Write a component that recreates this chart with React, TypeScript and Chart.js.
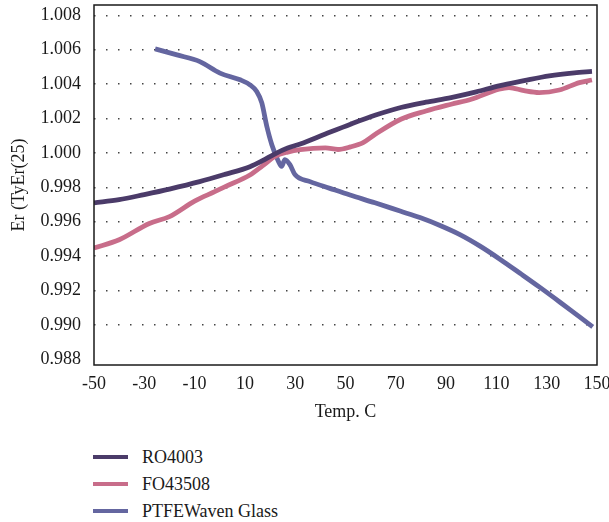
import React, { useEffect, useRef } from "react";
import { Chart, registerables } from "chart.js";

Chart.register(...registerables);

const FONT = '"Liberation Serif", "Times New Roman", serif';

const xTicks = [-50, -30, -10, 10, 30, 50, 70, 90, 110, 130, 150];
const yTicks = [0.988, 0.99, 0.992, 0.994, 0.996, 0.998, 1.0, 1.002, 1.004, 1.006, 1.008];

const seriesNames = ["RO4003", "FO43508", "PTFEWaven Glass"];
const seriesColors = ["#4b3b69", "#c86d8a", "#6466a0"];

const roTemps = [-50, -40, -30, -20, -8, 2, 12, 17, 22, 27, 32, 42, 52, 62, 72, 82, 92, 102, 111, 121, 131, 141, 148];
const roValues = [0.9971, 0.99728, 0.99758, 0.9979, 0.99833, 0.99875, 0.9992, 0.99955, 0.99995, 1.00028, 1.00052, 1.0011, 1.00167, 1.0022, 1.00264, 1.00295, 1.00322, 1.00355, 1.0039, 1.0042, 1.00448, 1.00466, 1.00474];

const foTemps = [-50, -40, -28, -20, -10, -2, 2, 12, 17, 22, 27, 32, 42, 47, 52, 57, 62, 72, 82, 92, 100, 111, 115, 121, 127, 135, 143, 148];
const foValues = [0.99447, 0.99495, 0.9959, 0.9963, 0.9972, 0.99775, 0.99803, 0.99872, 0.99925, 0.9998, 1.00005, 1.00019, 1.00029, 1.0002, 1.00035, 1.0006, 1.0011, 1.00196, 1.00244, 1.00283, 1.00312, 1.0037, 1.0038, 1.00362, 1.00351, 1.00366, 1.00409, 1.00424];

const ptTemps = [-25.7, -17, -7.9, 0.1, 8.1, 12.0, 14.7, 16.7, 18.7, 20.7, 23.3, 24.6, 25.9, 27.9, 29.9, 35.9, 43.8, 51.8, 61.7, 71.7, 79.6, 87.6, 95.5, 103.5, 111.4, 119.4, 127.3, 135.3, 143.2, 148.3];
const ptValues = [1.00605, 1.0057, 1.00531, 1.00464, 1.00425, 1.00396, 1.00357, 1.00292, 1.00155, 1.00048, 0.99952, 0.99922, 0.99961, 0.99932, 0.99874, 0.99833, 0.99794, 0.99755, 0.9971, 0.99662, 0.99624, 0.99578, 0.99525, 0.99458, 0.99382, 0.993, 0.99218, 0.99132, 0.99045, 0.98989];

const seriesTemps = [roTemps, foTemps, ptTemps];
const seriesValues = [roValues, foValues, ptValues];

const framePlugin = {
  id: "frame",
  afterDraw(chart: any) {
    const { ctx, chartArea } = chart;
    ctx.save();
    ctx.strokeStyle = "#1a1a1a";
    ctx.lineWidth = 1.5;
    ctx.strokeRect(chartArea.left, chartArea.top, chartArea.right - chartArea.left, chartArea.bottom - chartArea.top);
    ctx.restore();
  },
};

export default function App() {
  const canvasRef = useRef<HTMLCanvasElement | null>(null);

  useEffect(() => {
    if (!canvasRef.current) return;
    const datasets = seriesNames.map((name, i) => ({
      label: name,
      data: seriesTemps[i].map((t, j) => ({ x: t, y: seriesValues[i][j] })),
      borderColor: seriesColors[i],
      backgroundColor: seriesColors[i],
      borderWidth: 4.8,
      pointRadius: 0,
      cubicInterpolationMode: "monotone" as const,
      fill: false,
    }));
    const chart = new Chart(canvasRef.current, {
      type: "line",
      data: { datasets },
      plugins: [framePlugin],
      options: {
        animation: false,
        responsive: false,
        maintainAspectRatio: false,
        layout: { padding: { left: 0, top: 5, right: 12, bottom: 0 } },
        plugins: { legend: { display: false }, tooltip: { enabled: false } },
        scales: {
          x: {
            type: "linear",
            min: -50,
            max: 150,
            afterBuildTicks: (scale: any) => {
              scale.ticks = xTicks.map((v) => ({ value: v }));
            },
            afterFit: (scale: any) => {
              scale.height = 65;
              scale.paddingLeft = 0;
              scale.paddingRight = 0;
            },
            grid: { display: false, drawTicks: false },
            border: { display: false },
            ticks: {
              padding: 8,
              color: "#1a1a1a",
              font: { family: FONT, size: 18 },
              callback: (v: any) => String(v),
              maxRotation: 0,
              autoSkip: false,
            },
            title: {
              display: true,
              text: "Temp. C",
              color: "#1a1a1a",
              font: { family: FONT, size: 18 },
              padding: { top: 0, bottom: 7 },
            },
          },
          y: {
            type: "linear",
            min: 0.98767,
            max: 1.0086,
            afterBuildTicks: (scale: any) => {
              scale.ticks = yTicks.map((v) => ({ value: v }));
            },
            afterFit: (scale: any) => {
              scale.width = 94;
              scale.paddingTop = 0;
              scale.paddingBottom = 0;
            },
            grid: {
              drawTicks: false,
              color: (ctx: any) => (ctx.tick && Math.abs(ctx.tick.value - 0.988) < 1e-6 ? "rgba(0,0,0,0)" : "#444"),
              lineWidth: 1.5,
            },
            border: { display: false, dash: [1.5, 10.5] },
            ticks: {
              padding: 13,
              color: "#1a1a1a",
              font: { family: FONT, size: 18 },
              callback: (v: any) => Number(v).toFixed(3),
              autoSkip: false,
            },
            title: {
              display: true,
              text: "Er (TyEr(25)",
              color: "#1a1a1a",
              font: { family: FONT, size: 18 },
              padding: { top: 8, bottom: 0 },
            },
          },
        },
      },
    });
    return () => chart.destroy();
  }, []);

  return (
    <div style={{ position: "absolute", left: 0, top: 0, width: 609, height: 522, background: "#fff" }}>
      <canvas ref={canvasRef} width={609} height={430} style={{ position: "absolute", left: 0, top: 0, width: 609, height: 430 }} />
      <div style={{ position: "absolute", left: 93, top: 443, fontFamily: FONT, fontSize: 18, color: "#1a1a1a" }}>
        {seriesNames.map((name, i) => (
          <div key={name} style={{ display: "flex", alignItems: "center", height: 27, whiteSpace: "nowrap" }}>
            <span style={{ display: "inline-block", width: 35, height: 4, background: seriesColors[i], marginRight: 14 }} />
            <span style={{ lineHeight: "18px" }}>{name}</span>
          </div>
        ))}
      </div>
    </div>
  );
}
